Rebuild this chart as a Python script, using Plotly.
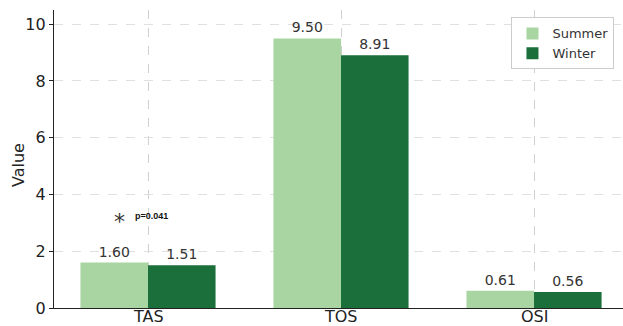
import plotly.graph_objects as go

categories = ["TAS", "TOS", "OSI"]
summer = [1.60, 9.50, 0.61]
winter = [1.51, 8.91, 0.56]
sig_label = "p=0.041"
sig_y = 3.25

fig = go.Figure()
fig.add_trace(go.Bar(x=categories, y=summer, name="Summer", marker=dict(color="#a8d5a2", line=dict(width=0)),
                     text=[f"{v:.2f}" for v in summer], textposition="outside",
                     textfont=dict(size=14, color="#333333"), cliponaxis=False))
fig.add_trace(go.Bar(x=categories, y=winter, name="Winter", marker=dict(color="#1a6f3a", line=dict(width=0)),
                     text=[f"{v:.2f}" for v in winter], textposition="outside",
                     textfont=dict(size=14, color="#333333"), cliponaxis=False))

fig.add_annotation(x=-0.15, y=sig_y, xref="x", yref="y", text="*", showarrow=False,
                   font=dict(size=22, color="#333333", family="DejaVu Sans"), yshift=-6)
fig.add_annotation(x=-0.08, y=sig_y, xref="x", yref="y", text=f"<b>{sig_label}</b>", showarrow=False,
                   xanchor="left", font=dict(size=9, color="#111111", family="Liberation Sans"))

# category labels under the axis
for c in categories:
    fig.add_annotation(x=c, y=0, xref="x", yref="paper", text=c, showarrow=False,
                       yanchor="top", yshift=2, borderpad=0, font=dict(size=16, color="#222222"))
# y-axis title
fig.add_annotation(x=0, y=0.5, xref="paper", yref="paper", text="Value", showarrow=False,
                   textangle=-90, xanchor="center", yanchor="middle", xshift=-36, yshift=-6,
                   font=dict(size=16, color="#222222"))

fig.update_layout(
    width=623, height=326,
    margin=dict(l=54, r=0, t=10, b=18),
    plot_bgcolor="white", paper_bgcolor="white",
    barmode="group", bargap=0.3, bargroupgap=0,
    font=dict(family="DejaVu Sans", color="#222222"),
    legend=dict(x=0.985, y=0.975, xanchor="right", yanchor="top",
                bordercolor="#cccccc", borderwidth=1, bgcolor="white",
                font=dict(size=13, color="#333333")),
    showlegend=True,
)
fig.update_xaxes(type="category", range=[-0.487, 2.461], showgrid=True, gridcolor="#d0d0d0",
                 griddash="dash", gridwidth=1, showline=True, linecolor="#222222", linewidth=1.2,
                 ticks="", showticklabels=False, zeroline=False, automargin=False)
fig.update_yaxes(range=[0, 10.5], dtick=2, showgrid=True, gridcolor="#e0e0e0", griddash="dash",
                 gridwidth=1, showline=True, linecolor="#222222", linewidth=1.2,
                 ticks="outside", ticklen=4, tickcolor="#222222",
                 tickfont=dict(size=16, color="#222222"), zeroline=False, automargin=False)

fig.write_html("out.html")
